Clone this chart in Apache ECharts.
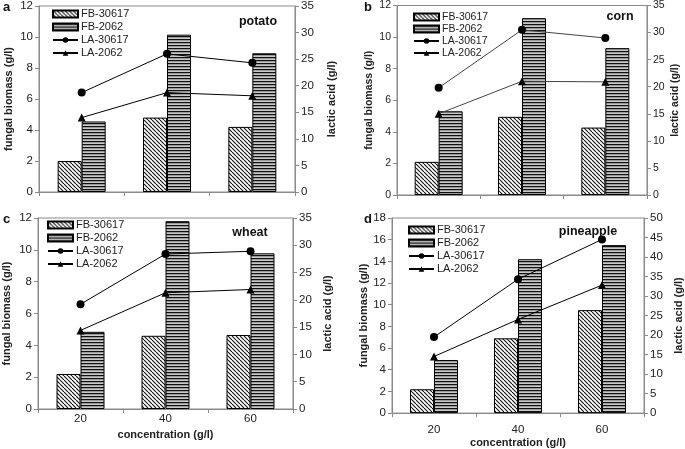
<!DOCTYPE html>
<html>
<head>
<meta charset="utf-8">
<script src="https://cdn.jsdelivr.net/npm/echarts@6/dist/echarts.min.js"></script>
<style>html,body{margin:0;padding:0;background:#fff}#c{width:685px;height:449px}</style>
</head>
<body>
<div id="c"></div>
<script>
const categories = ['20', '40', '60'];
const seriesNames = ['FB-30617', 'FB-2062', 'LA-30617', 'LA-2062'];
const panelTitles = ['potato', 'corn', 'wheat', 'pineapple'];
const panelLetters = ['a', 'b', 'c', 'd'];

const potatoFB30617 = [2.0, 4.8, 4.2];
const potatoFB2062 = [4.55, 10.15, 8.95];
const potatoLA30617 = [18.7, 26.0, 24.3];
const potatoLA2062 = [14.0, 18.7, 18.1];

const cornFB30617 = [2.1, 4.95, 4.27];
const cornFB2062 = [5.3, 11.2, 9.3];
const cornLA30617 = [19.8, 30.5, 29.0];
const cornLA2062 = [15.0, 21.0, 20.9];

const wheatFB30617 = [2.2, 4.6, 4.65];
const wheatFB2062 = [4.85, 11.8, 9.78];
const wheatLA30617 = [19.2, 28.4, 28.9];
const wheatLA2062 = [14.4, 21.3, 21.9];

const pineFB30617 = [2.2, 6.9, 9.5];
const pineFB2062 = [4.9, 14.2, 15.5];
const pineLA30617 = [19.5, 34.3, 44.5];
const pineLA2062 = [14.5, 24.0, 32.8];

const leftMax = [12, 12, 12, 18];
const rightMax = [35, 35, 35, 50];

const FONT = 'Liberation Sans';

function hatchPattern() {
  const c = document.createElement('canvas');
  c.width = 4; c.height = 4;
  const g = c.getContext('2d');
  g.fillStyle = '#fff'; g.fillRect(0, 0, 4, 4);
  g.strokeStyle = '#111'; g.lineWidth = 1.1;
  g.beginPath();
  for (let k = -4; k <= 4; k += 4) { g.moveTo(k, 0); g.lineTo(k + 4, 4); }
  g.stroke();
  return c;
}
function stripePattern() {
  const c = document.createElement('canvas');
  c.width = 4; c.height = 3;
  const g = c.getContext('2d');
  g.fillStyle = '#9a9a9a'; g.fillRect(0, 0, 4, 3);
  g.fillStyle = '#c8c8c8'; g.fillRect(0, 2, 4, 1);
  g.fillStyle = '#111'; g.fillRect(0, 0, 4, 1);
  return c;
}
const hatchFill = { image: hatchPattern(), repeat: 'repeat' };
const stripeFill = { image: stripePattern(), repeat: 'repeat' };

const panelData = [
  [potatoFB30617, potatoFB2062, potatoLA30617, potatoLA2062],
  [cornFB30617, cornFB2062, cornLA30617, cornLA2062],
  [wheatFB30617, wheatFB2062, wheatLA30617, wheatLA2062],
  [pineFB30617, pineFB2062, pineLA30617, pineLA2062]
];

const grids = [
  { left: 39, top: 5, width: 256, height: 187 },
  { left: 397, top: 5, width: 250, height: 190 },
  { left: 37, top: 218, width: 256, height: 191 },
  { left: 392, top: 218, width: 253, height: 199 }
];
const leftNameGap = [25, 22, 26, 23];
const rightNameGap = [31, 23, 29, 29];
const fs = [11.5, 10.5, 11.5, 11.5];
const legendPos = [
  { left: 52, top: 8 }, { left: 413, top: 11 }, { left: 47, top: 219 }, { left: 408, top: 224 }
];
const legendGap = [1, 0, 1, 1];
const titlePos = [[258, 15], [620, 10], [250, 226], [588, 225]];
const letterPos = [[3, 1], [364, 1], [3, 213], [364, 213]];
const xLabelMargin = [4, 4, 4, 11];
const xNameGap = [20, 20, 20, 21];

const option = {
  animation: false,
  backgroundColor: '#fff',
  textStyle: { fontFamily: FONT },
  grid: [], xAxis: [], yAxis: [], series: [], legend: [], title: []
};

for (let p = 0; p < 4; p++) {
  option.grid.push(Object.assign({ show: true, borderColor: '#8a8a8a', borderWidth: 1, backgroundColor: 'transparent' }, grids[p]));
  const showX = p >= 2;
  option.xAxis.push({
    type: 'category', gridIndex: p, data: categories,
    axisLine: { lineStyle: { color: '#8a8a8a' } },
    axisTick: { show: true, length: 4, alignWithLabel: false, lineStyle: { color: '#8a8a8a' } },
    axisLabel: { show: showX, color: '#222', fontSize: fs[p], fontFamily: FONT, margin: xLabelMargin[p] },
    name: showX ? 'concentration (g/l)' : '',
    nameLocation: 'middle', nameGap: xNameGap[p],
    nameTextStyle: { fontWeight: 'bold', fontSize: 11, color: '#222', fontFamily: FONT }
  });
  option.yAxis.push({
    type: 'value', gridIndex: p, position: 'left', min: 0, max: leftMax[p], interval: 2,
    axisLine: { show: true, lineStyle: { color: '#8a8a8a' } },
    axisTick: { show: true, length: 4, lineStyle: { color: '#8a8a8a' } },
    splitLine: { show: false },
    axisLabel: { color: '#222', fontSize: fs[p], fontFamily: FONT, margin: 6 },
    name: 'fungal biomass (g/l)', nameLocation: 'middle', nameRotate: 90, nameGap: leftNameGap[p],
    nameTextStyle: { fontWeight: 'bold', fontSize: p === 1 ? 10.5 : 11, color: '#222', fontFamily: FONT }
  });
  option.yAxis.push({
    type: 'value', gridIndex: p, position: 'right', min: 0, max: rightMax[p], interval: 5,
    axisLine: { show: true, lineStyle: { color: '#8a8a8a' } },
    axisTick: { show: true, length: 4, lineStyle: { color: '#8a8a8a' } },
    splitLine: { show: false },
    axisLabel: { color: '#222', fontSize: fs[p], fontFamily: FONT, margin: 6 },
    name: 'lactic acid (g/l)', nameLocation: 'middle', nameRotate: 90, nameGap: rightNameGap[p],
    nameTextStyle: { fontWeight: 'bold', fontSize: p === 1 ? 10.5 : 11, color: '#222', fontFamily: FONT }
  });
  const d = panelData[p];
  const lineColor = p === 1 ? '#444' : '#000';
  option.series.push({
    name: seriesNames[0], type: 'bar', xAxisIndex: p, yAxisIndex: 2 * p, data: d[0],
    barWidth: 24, barGap: '0%',
    itemStyle: { color: hatchFill, borderColor: '#000', borderWidth: 1 }
  });
  option.series.push({
    name: seriesNames[1], type: 'bar', xAxisIndex: p, yAxisIndex: 2 * p, data: d[1],
    barWidth: 24, barGap: '0%',
    itemStyle: { color: stripeFill, borderColor: '#000', borderWidth: 1 }
  });
  option.series.push({
    name: seriesNames[2], type: 'line', xAxisIndex: p, yAxisIndex: 2 * p + 1, data: d[2],
    symbol: 'circle', symbolSize: 8, z: 5,
    lineStyle: { color: lineColor, width: 1 }, itemStyle: { color: '#000' }
  });
  option.series.push({
    name: seriesNames[3], type: 'line', xAxisIndex: p, yAxisIndex: 2 * p + 1, data: d[3],
    symbol: 'triangle', symbolSize: 8, z: 5,
    lineStyle: { color: lineColor, width: 1 }, itemStyle: { color: '#000' }
  });
  option.legend.push({
    data: [
      { name: seriesNames[0], icon: 'rect' },
      { name: seriesNames[1], icon: 'rect' },
      { name: seriesNames[2] },
      { name: seriesNames[3] }
    ],
    orient: 'vertical', left: legendPos[p].left, top: legendPos[p].top,
    padding: 0, itemGap: legendGap[p], itemWidth: 25, itemHeight: 7, selectedMode: false,
    textStyle: { fontSize: p === 1 ? 10.5 : 11, color: '#222', fontFamily: FONT, lineHeight: 12, padding: [0, 0, 0, -2] }
  });
  option.title.push({
    text: panelTitles[p], left: titlePos[p][0], top: titlePos[p][1], textAlign: 'center', padding: 0,
    textStyle: { fontFamily: 'Liberation Sans', fontWeight: 'bold', fontSize: 12.5, color: '#111' }
  });
  option.title.push({
    text: panelLetters[p], left: letterPos[p][0], top: letterPos[p][1], padding: 0,
    textStyle: { fontFamily: 'Liberation Sans', fontWeight: 'bold', fontSize: 13, color: '#111' }
  });
}

const chart = echarts.init(document.getElementById('c'), null, { renderer: 'canvas' });
chart.setOption(option);
</script>
</body>
</html>
